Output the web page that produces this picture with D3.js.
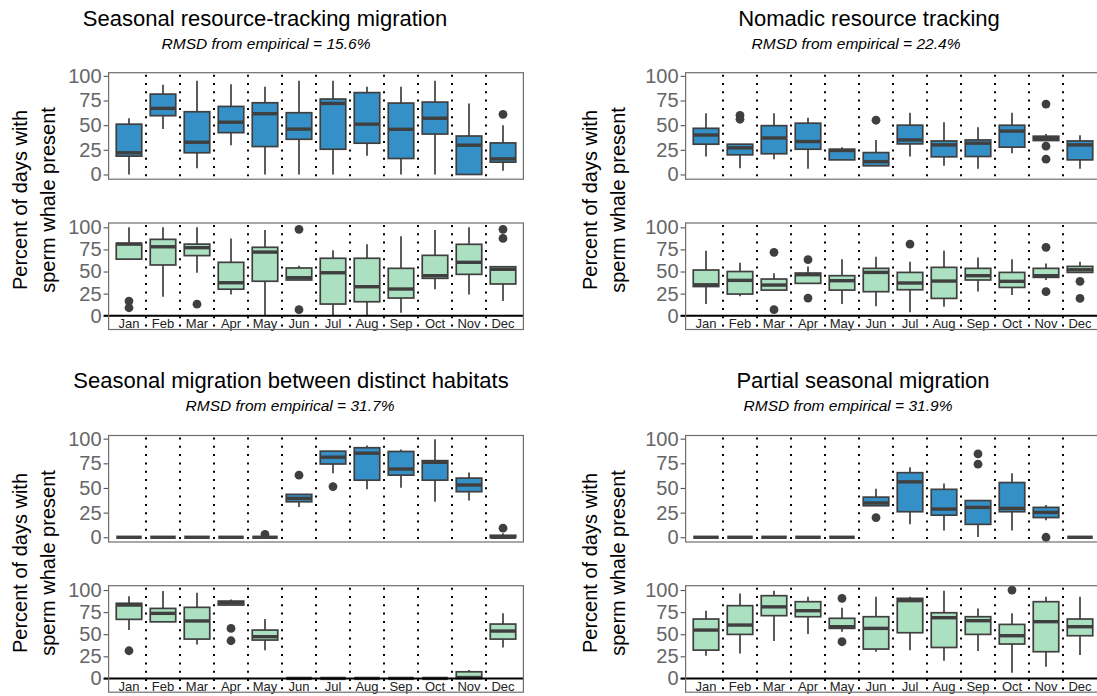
<!DOCTYPE html>
<html>
<head>
<meta charset="utf-8">
<script src="https://cdn.jsdelivr.net/npm/d3@7"></script>
<style>
    body { margin: 0; background: #fff; }
    svg { display: block; font-family: "Liberation Sans", Arial, sans-serif; }
</style>
</head>
<body>
<svg id="chart" width="1097" height="696"></svg>
<script>
(function () {

    // months on the x axis
    var months = ["Jan", "Feb", "Mar", "Apr", "May", "Jun", "Jul", "Aug", "Sep", "Oct", "Nov", "Dec"];
    var yTicks = [0, 25, 50, 75, 100];

    var titles = [
        "Seasonal resource-tracking migration",
        "Nomadic resource tracking",
        "Seasonal migration between distinct habitats",
        "Partial seasonal migration"
    ];
    var rmsd = ["15.6%", "22.4%", "31.7%", "31.9%"];

    // box stats per month: [lower whisker, q1, median, q3, upper whisker]
    var resTrackBlue = [
        [0, 18.6, 22, 51, 57], [46, 59.6, 67, 81.5, 91], [6.4, 22, 32.7, 63.6, 95], [29.7, 42.4, 53, 69, 91.6],
        [0, 28.3, 61.6, 72.7, 89], [0, 35.7, 46, 62.6, 95], [0, 25.6, 72, 76.5, 95], [19, 31.7, 51, 83, 89],
        [0, 16.2, 45.8, 72.4, 89], [0, 41, 57, 73.4, 95], [0, 0, 29.7, 39, 72], [3.7, 12.5, 15.8, 32, 50]
    ];
    var resTrackBlueOut = [[], [], [], [], [], [], [], [], [], [], [], [61]];
    var resTrackGreen = [
        [64, 64, 81, 82, 100], [21.5, 57.4, 78, 86.4, 100], [48.7, 68, 77, 81, 100], [24, 30, 37.3, 60.4, 87.5],
        [0, 39, 72, 77.4, 97], [40.4, 40.4, 43, 54, 56.6], [0, 13.2, 48.6, 65, 74], [0, 15.8, 32.8, 65, 80.8],
        [3.4, 20, 30.2, 53.6, 90], [30, 42.3, 45.3, 68.3, 97], [24, 46.8, 60.4, 80.8, 100], [16.6, 35.9, 52.5, 55.4, 55.4]
    ];
    var resTrackGreenOut = [[16.6, 9], [], [13], [], [], [97.7, 6.8], [], [], [], [], [], [97.7, 87.5]];

    var nomadicBlue = [
        [18.2, 30.7, 40, 46.8, 62], [6.4, 19.9, 27, 30.7, 30.7], [15.5, 21, 37, 49.5, 62], [5.8, 25.6, 33.4, 52, 57.6],
        [14.8, 14.8, 24.3, 25.6, 27.7], [8.8, 8.8, 13, 22.2, 35], [18.2, 31, 35, 50, 62.6], [8.8, 17.9, 30, 34, 53],
        [5.8, 18.2, 31.7, 35, 47.9], [21.6, 27.7, 44, 49.9, 62.6], [34.4, 34.4, 36.4, 38.8, 41], [5.8, 14.8, 30, 34, 39.8]
    ];
    var nomadicBlueOut = [[], [60, 56], [], [], [], [55], [], [], [], [], [71.4, 28.7, 15.5], []];
    var nomadicGreen = [
        [13.2, 33, 35, 51.7, 73.6], [22, 24.5, 40, 50, 60], [29, 29, 34.7, 41.5, 48], [36.6, 36.6, 46.4, 48.3, 55.8],
        [13.2, 29, 39.6, 45.3, 64], [10.6, 27.2, 49, 53.6, 66.8], [3.8, 29.4, 37, 49, 61], [10.2, 19.6, 39.2, 54.7, 73.6],
        [27.5, 40.4, 45.3, 53.6, 66], [23.4, 32, 38.9, 49, 64], [40.4, 43.4, 45.3, 53.6, 59.2], [49, 49, 52, 55.8, 61]
    ];
    var nomadicGreenOut = [[], [], [71.7, 6.8], [63.4, 20], [], [], [81], [], [], [], [77.4, 27.2], [38.9, 19.6]];

    var distinctBlue = [
        [0, 0, 0, 0, 0], [0, 0, 0, 0, 0], [0, 0, 0, 0, 0], [0, 0, 0, 0, 0],
        [0, 0, 0, 0, 0], [30.8, 36, 39.4, 43.5, 43.5], [65, 74.3, 81.2, 87.3, 87.3], [48.6, 57.9, 85.3, 90.8, 93],
        [50.3, 63, 69.2, 87, 89], [36, 57.9, 76, 77.7, 99.3], [37.3, 46.2, 53, 60, 65.8], [0, 0, 0, 2, 4]
    ];
    var distinctBlueOut = [[], [], [], [], [3], [63], [51.4], [], [], [], [], [9.2]];
    var distinctGreen = [
        [54.7, 66.8, 83, 85, 93], [64, 64, 73.6, 79.2, 99], [38.5, 44.5, 65, 80.4, 97], [83, 83, 85.7, 87.5, 89.4],
        [32, 43.4, 47.2, 54.7, 67.2], [0, 0, 0, 0, 0], [0, 0, 0, 0, 0], [0, 0, 0, 0, 0],
        [0, 0, 0, 0, 0], [0, 0, 0, 0, 0], [0, 0, 1, 7.5, 9.4], [35, 44.5, 53.6, 61.5, 73.6]
    ];
    var distinctGreenOut = [[31.3], [], [], [56.6, 42.6], [], [], [], [], [], [], [], []];

    var partialBlue = [
        [0, 0, 0, 0, 0], [0, 0, 0, 0, 0], [0, 0, 0, 0, 0], [0, 0, 0, 0, 0],
        [0, 0, 0, 0, 0], [32, 32, 34.8, 40.7, 49.3], [13.1, 25.9, 56.2, 65.5, 71], [6.9, 22.4, 28.6, 48.6, 54.5],
        [0.3, 13.1, 30.3, 37.2, 37.2], [6.9, 25.9, 29.3, 55.5, 64.8], [17.2, 20, 25.2, 30.3, 32.8], [0, 0, 0, 0, 0]
    ];
    var partialBlueOut = [[], [], [], [], [], [20], [], [], [84.5, 74.1], [], [0], []];
    var partialGreen = [
        [25.7, 32, 54.7, 67.2, 76.6], [28.3, 49.8, 60.4, 82.3, 96.2], [42.3, 71, 81, 93.6, 99.2], [50.2, 69.8, 76.6, 86.8, 92.5],
        [52.8, 56.6, 58.5, 68, 80], [30.2, 33.2, 56.6, 69.8, 92.5], [32, 51.7, 88, 90.6, 92.5], [20, 35, 68.7, 74.3, 99.2],
        [31, 49.8, 65.3, 69.8, 79.2], [6.4, 38.9, 48.3, 61.1, 73.6], [13.2, 30.2, 64.2, 86.8, 92.5], [26.4, 48.3, 58.5, 67.2, 92.5]
    ];
    var partialGreenOut = [[], [], [], [], [90.6, 41.5], [], [], [], [], [100], [], []];

    var blue = "#3690c8";
    var green = "#abe0c1";
    var ink = "#3f3f3f";

    var panels = [
        { col: 0, row: 0, upper: resTrackBlue, upperOut: resTrackBlueOut, lower: resTrackGreen, lowerOut: resTrackGreenOut, titleX: 265, subX: 266 },
        { col: 1, row: 0, upper: nomadicBlue, upperOut: nomadicBlueOut, lower: nomadicGreen, lowerOut: nomadicGreenOut, titleX: 869, subX: 856 },
        { col: 0, row: 1, upper: distinctBlue, upperOut: distinctBlueOut, lower: distinctGreen, lowerOut: distinctGreenOut, titleX: 291, subX: 290 },
        { col: 1, row: 1, upper: partialBlue, upperOut: partialBlueOut, lower: partialGreen, lowerOut: partialGreenOut, titleX: 863, subX: 848 }
    ];

    var colLeft = [108.6, 685.6];
    var colWidth = 414.8;
    var rowTop = [[72.7, 223], [435.5, 585.7]];
    var panelH = 106.5;
    var titleY = [26, 388];
    var labelX = [[27, 55], [597, 625]];
    var labelY = [200, 563];

    var svg = d3.select("#chart");

    function drawBoxes(g, x, y, stats, outs, fill) {
        var half = 0.375;
        stats.forEach(function (s, i) {
            var cx = i + 1;
            var b = g.append("g");
            b.append("line")
                .attr("x1", x(cx)).attr("x2", x(cx))
                .attr("y1", y(s[4])).attr("y2", y(s[3]))
                .attr("stroke", ink).attr("stroke-width", 1.7);
            b.append("line")
                .attr("x1", x(cx)).attr("x2", x(cx))
                .attr("y1", y(s[1])).attr("y2", y(s[0]))
                .attr("stroke", ink).attr("stroke-width", 1.7);
            b.append("rect")
                .attr("x", x(cx - half))
                .attr("width", x(cx + half) - x(cx - half))
                .attr("y", y(s[3]))
                .attr("height", Math.max(0, y(s[1]) - y(s[3])))
                .attr("fill", fill).attr("stroke", ink).attr("stroke-width", 1.7);
            b.append("line")
                .attr("x1", x(cx - half)).attr("x2", x(cx + half))
                .attr("y1", y(s[2])).attr("y2", y(s[2]))
                .attr("stroke", ink).attr("stroke-width", 3.4);
            outs[i].forEach(function (v) {
                b.append("circle")
                    .attr("cx", x(cx)).attr("cy", y(v)).attr("r", 4.4)
                    .attr("fill", ink);
            });
        });
    }

    function drawPanel(left, top, isLower, stats, outs, fill) {
        var right = left + colWidth;
        var bottom = top + panelH;
        var x = d3.scaleLinear().domain([0.4, 12.6]).range([left, right]);
        var y = isLower
            ? d3.scaleLinear().domain([-15.6, 104.9]).range([bottom, top])
            : d3.scaleLinear().domain([-4.8, 103.2]).range([bottom, top]);

        var g = svg.append("g");

        // dotted month separators
        d3.range(1, 12).forEach(function (k) {
            g.append("line")
                .attr("x1", x(k + 0.5)).attr("x2", x(k + 0.5))
                .attr("y1", top + 2).attr("y2", bottom)
                .attr("stroke", "#000").attr("stroke-width", 2)
                .attr("stroke-dasharray", "2,6.3");
        });

        drawBoxes(g, x, y, stats, outs, fill);

        var axis = d3.axisLeft(y).tickValues(yTicks).tickSize(5).tickPadding(2);
        var ax = g.append("g").attr("transform", "translate(" + left + ",0)").call(axis);
        ax.select(".domain").remove();
        ax.selectAll(".tick line").attr("stroke", "#555").attr("stroke-width", 1.1);
        ax.selectAll(".tick text")
            .attr("fill", "#666")
            .style("font-size", "20px")
            .style("font-family", "'Liberation Sans', Arial, sans-serif");

        if (isLower) {
            g.append("line")
                .attr("x1", left - 5).attr("x2", right)
                .attr("y1", y(0)).attr("y2", y(0))
                .attr("stroke", "#000").attr("stroke-width", 2);
            g.selectAll(".month")
                .data(months)
                .enter().append("text")
                .attr("class", "month")
                .attr("x", function (d, i) { return x(i + 1); })
                .attr("y", y(-8.8))
                .attr("dy", "0.35em")
                .attr("text-anchor", "middle")
                .attr("fill", "#222")
                .style("font-size", "13px")
                .text(function (d) { return d; });
        }

        g.append("rect")
            .attr("x", left).attr("y", top)
            .attr("width", colWidth).attr("height", panelH)
            .attr("fill", "none").attr("stroke", "#6e6e6e").attr("stroke-width", 1.2);
    }

    panels.forEach(function (p, i) {
        var left = colLeft[p.col];
        drawPanel(left, rowTop[p.row][0], false, p.upper, p.upperOut, blue);
        drawPanel(left, rowTop[p.row][1], true, p.lower, p.lowerOut, green);

        svg.append("text")
            .attr("x", p.titleX).attr("y", titleY[p.row])
            .attr("text-anchor", "middle")
            .attr("fill", "#000")
            .style("font-size", "22px")
            .text(titles[i]);

        svg.append("text")
            .attr("x", p.subX).attr("y", titleY[p.row] + 23)
            .attr("text-anchor", "middle")
            .attr("fill", "#000")
            .style("font-size", "15.5px")
            .style("font-style", "italic")
            .text("RMSD from empirical = " + rmsd[i]);

        ["Percent of days with", "sperm whale present"].forEach(function (line, k) {
            svg.append("text")
                .attr("transform", "translate(" + labelX[p.col][k] + "," + labelY[p.row] + ") rotate(-90)")
                .attr("text-anchor", "middle")
                .attr("fill", "#000")
                .style("font-size", "20px")
                .text(line);
        });
    });

})();
</script>
</body>
</html>
